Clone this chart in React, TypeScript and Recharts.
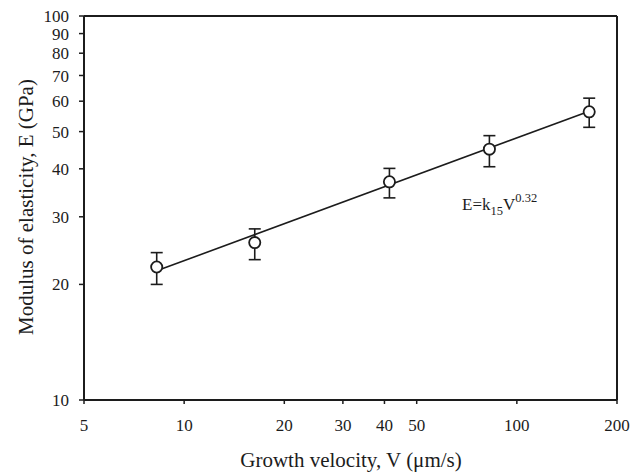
import { ScatterChart, Scatter, XAxis, YAxis, ErrorBar, ReferenceLine, Label, Customized } from 'recharts'

// measured points: growth velocity (µm/s) vs modulus (GPa)
const velocity = [8.27, 16.3, 41.4, 82.7, 165]
const modulus = [22.2, 25.7, 37.0, 45.0, 56.3]
const errLow = [2.2, 2.5, 3.4, 4.5, 5.0]
const errHigh = [2.0, 2.2, 3.1, 3.8, 4.8]

// power-law fit E = k15 V^0.32, end points
const fitVelocity = [8.27, 165]
const fitModulus = [21.7, 56.5]

const xTicks = [5, 10, 20, 30, 40, 50, 100, 200]
const yTicks = [10, 20, 30, 40, 50, 60, 70, 80, 90, 100]

const points = velocity.map((v, i) => ({ v, e: modulus[i], err: [errLow[i], errHigh[i]] }))
const fit = fitVelocity.map((v, i) => ({ v, e: fitModulus[i] }))

const INK = '#1c1c1c'
const FONT = '"Liberation Serif", "Times New Roman", serif'

export default function App() {
  return (
    <div style={{ position: 'absolute', left: 0, top: 0, width: 632, height: 476, background: '#fff' }}>
      <ScatterChart width={632} height={476} margin={{ top: 16, right: 15, bottom: 0, left: 0 }}>
        <XAxis
          type="number"
          dataKey="v"
          scale="log"
          domain={[5, 200]}
          ticks={xTicks}
          interval={0}
          allowDataOverflow
          height={76}
          tickSize={4}
          tickMargin={15}
          stroke={INK}
          axisLine={{ stroke: INK, strokeWidth: 2 }}
          tickLine={{ stroke: INK, strokeWidth: 1.5 }}
          tick={{ fill: INK, fontSize: 17, fontFamily: FONT }}
        >
          <Label
            content={() => (
              <text x={351} y={467} textAnchor="middle" fill={INK} fontSize={21} fontFamily={FONT}>
                Growth velocity, V (μm/s)
              </text>
            )}
          />
        </XAxis>
        <YAxis
          type="number"
          dataKey="e"
          scale="log"
          domain={[10, 100]}
          ticks={yTicks}
          interval={0}
          allowDataOverflow
          width={84}
          tickSize={5}
          tickMargin={10}
          stroke={INK}
          axisLine={{ stroke: INK, strokeWidth: 2 }}
          tickLine={{ stroke: INK, strokeWidth: 1.5 }}
          tick={{ fill: INK, fontSize: 17, fontFamily: FONT }}
        >
          <Label
            content={() => (
              <text
                x={33}
                y={207}
                transform="rotate(-90 33 207)"
                textAnchor="middle"
                fill={INK}
                fontSize={21}
                fontFamily={FONT}
              >
                Modulus of elasticity, E (GPa)
              </text>
            )}
          />
        </YAxis>
        <ReferenceLine y={100} stroke={INK} strokeWidth={2} />
        <ReferenceLine x={200} stroke={INK} strokeWidth={2} />
        <Scatter
          data={fit}
          line={{ stroke: INK, strokeWidth: 1.6 }}
          shape={() => <g />}
          isAnimationActive={false}
        />
        <Scatter
          data={points}
          isAnimationActive={false}
          shape={(p: any) => (
            <circle cx={p.cx} cy={p.cy} r={5.6} fill="#fff" stroke={INK} strokeWidth={1.8} />
          )}
        >
          <ErrorBar dataKey="err" direction="y" width={6} stroke={INK} strokeWidth={1.6} isAnimationActive={false} />
        </Scatter>
        <Customized
          component={() => (
            <text x={462} y={210} fill={INK} fontSize={17} fontFamily={FONT}>
              E=k
              <tspan fontSize={12.5} dy={5}>15</tspan>
              <tspan fontSize={17} dy={-5}>V</tspan>
              <tspan fontSize={12.5} dy={-8}>0.32</tspan>
            </text>
          )}
        />
      </ScatterChart>
    </div>
  )
}
